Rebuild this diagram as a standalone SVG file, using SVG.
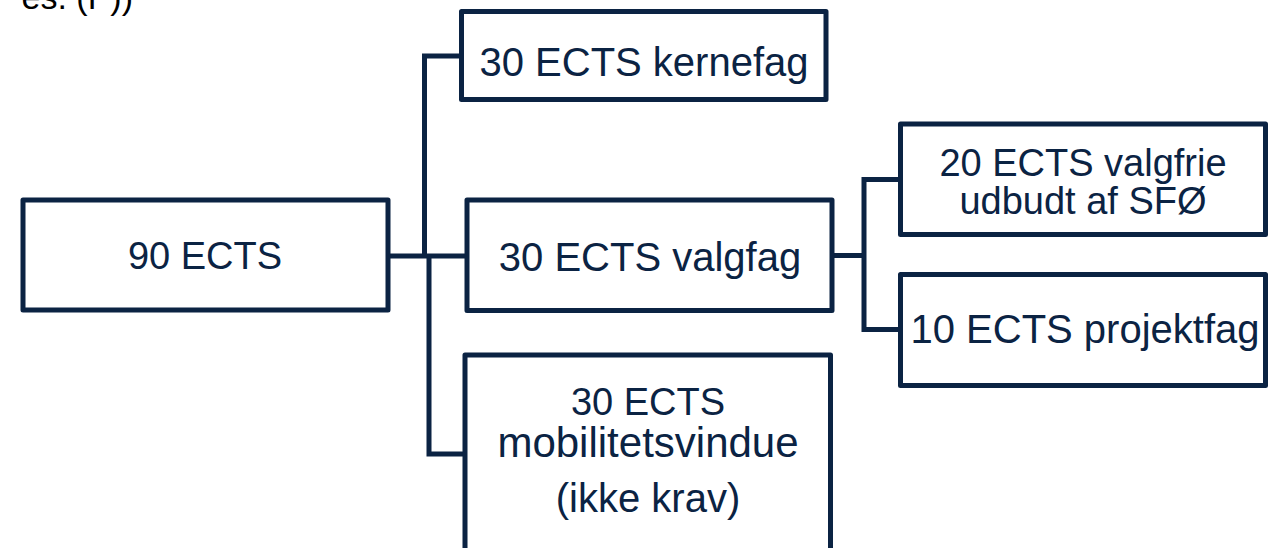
<svg xmlns="http://www.w3.org/2000/svg" width="1275" height="548" viewBox="0 0 1275 548">
<style>
.box{fill:#fff;stroke:#0b2343;stroke-width:5;stroke-linejoin:round}
.ln{fill:none;stroke:#0b2343;stroke-width:5;stroke-linejoin:miter}
.t{font-family:"Liberation Sans",Arial,sans-serif;font-size:40px;fill:#0b2343;text-anchor:middle}
</style>
<rect width="1275" height="548" fill="#fff"/>
<text x="133" y="9" style="font-family:'Liberation Sans',Arial,sans-serif;font-size:34px;fill:#000;text-anchor:end">es. (P))</text>
<g id="connectors">
<path class="ln" d="M388 256 H467"/>
<path class="ln" d="M461 56 H424.5 V256"/>
<path class="ln" d="M429 256 V454 H465"/>
<path class="ln" d="M832 255.5 H864"/>
<path class="ln" d="M900 179.5 H864 V329.5 H900"/>
</g>
<g id="n90">
<rect class="box" x="23" y="200" width="365" height="110"/>
<text class="t" x="205" y="269" style="font-size:38px">90 ECTS</text>
</g>
<g id="kernefag">
<rect class="box" x="461.5" y="11.5" width="364.5" height="88"/>
<text class="t" x="644" y="76">30 ECTS kernefag</text>
</g>
<g id="valgfag">
<rect class="box" x="467" y="200" width="365" height="110.5"/>
<text class="t" x="650" y="271">30 ECTS valgfag</text>
</g>
<g id="mobilitet">
<rect class="box" x="465" y="355" width="365.5" height="220"/>
<text class="t" x="648" y="415" style="font-size:38px">30 ECTS</text>
<text class="t" x="648" y="457" style="font-size:42px">mobilitetsvindue</text>
<text class="t" x="648" y="512">(ikke krav)</text>
</g>
<g id="valgfrie">
<rect class="box" x="900.5" y="124" width="365" height="110.5"/>
<text class="t" x="1083" y="176" style="font-size:38px">20 ECTS valgfrie</text>
<text class="t" x="1083" y="214" style="font-size:38px">udbudt af SFØ</text>
</g>
<g id="projektfag">
<rect class="box" x="900.5" y="274.5" width="365" height="111"/>
<text class="t" x="1085" y="343">10 ECTS projektfag</text>
</g>
</svg>
